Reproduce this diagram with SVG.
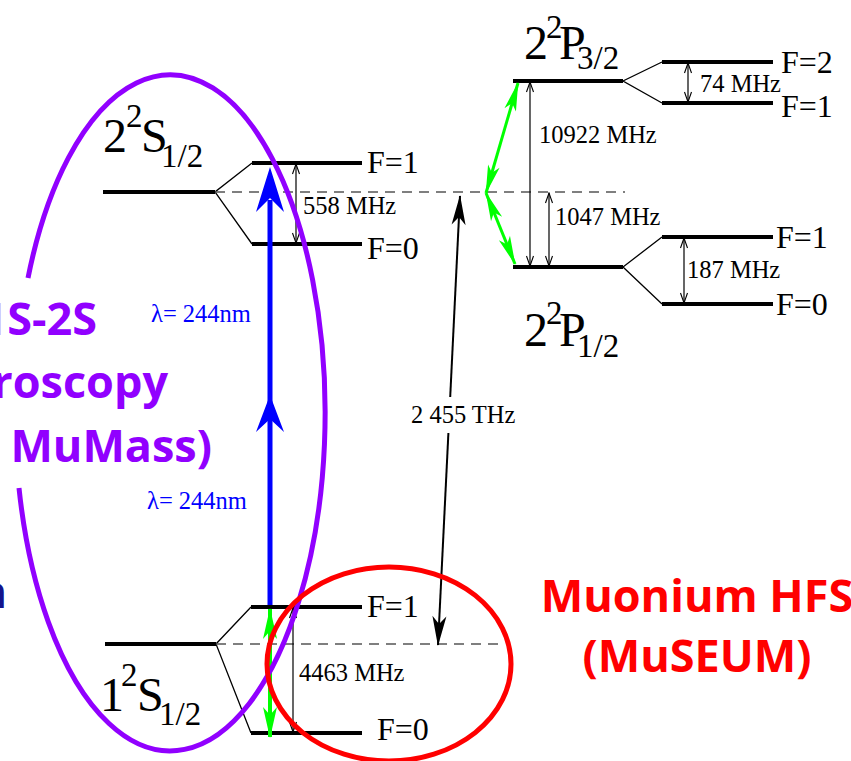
<svg xmlns="http://www.w3.org/2000/svg" width="851" height="761" viewBox="0 0 851 761">
<style>
.lvl{stroke:#000;stroke-width:4;fill:none}
.dg{stroke:#000;stroke-width:1.3;fill:none}
.dash{stroke:#555;stroke-width:1.3;stroke-dasharray:10 7;fill:none}
.tm{font-family:"Liberation Serif","Times New Roman",serif;fill:#000}
.f{font-size:32px}
.mhz{font-size:24.5px}
.big{font-size:48px}
.sm{font-size:33px}
.dim{stroke:#000;stroke-width:1.2;fill:none;marker-start:url(#vh);marker-end:url(#vh)}
.grn{stroke:#00ff00;stroke-width:4;fill:none;marker-start:url(#gh);marker-end:url(#gh)}
.grn2{stroke:#00ff00;stroke-width:3;fill:none;marker-start:url(#gh2);marker-end:url(#gh2)}
.bld{font-family:"Open Sans","Lato","Liberation Sans",sans-serif;font-weight:bold;font-size:45px}
.lam{font-family:"Liberation Serif","Times New Roman",serif;font-size:24.5px;fill:#0000ff}
</style>
<defs>
<marker id="vh" markerUnits="userSpaceOnUse" viewBox="-11 -5 12 10" markerWidth="12" markerHeight="10" refX="0" refY="0" orient="auto-start-reverse">
<path d="M-10,-3.5 L0,0 L-10,3.5" fill="none" stroke="#000" stroke-width="1.1"/>
</marker>
<marker id="gh" markerUnits="userSpaceOnUse" viewBox="-32 -8 34 16" markerWidth="34" markerHeight="16" refX="0" refY="0" orient="auto-start-reverse">
<path d="M1,0 L-30,-7 L-22,0 L-30,7 Z" fill="#00ff00"/>
</marker>
<marker id="gh2" markerUnits="userSpaceOnUse" viewBox="-32 -8 34 16" markerWidth="34" markerHeight="16" refX="0" refY="0" orient="auto-start-reverse">
<path d="M1,0 L-28,-6 L-21,0 L-28,6 Z" fill="#00ff00"/>
</marker>
<marker id="bh" markerUnits="userSpaceOnUse" viewBox="-32 -9 34 18" markerWidth="34" markerHeight="18" refX="0" refY="0" orient="auto-start-reverse">
<path d="M1,0 L-29,-7 L-21,0 L-29,7 Z" fill="#000"/>
</marker>
</defs>
<rect width="851" height="761" fill="#fff"/>

<g id="level-2S">
<line class="lvl" x1="103" y1="192" x2="215" y2="192"/>
<line class="lvl" x1="252" y1="163" x2="362" y2="163"/>
<line class="lvl" x1="252" y1="244" x2="362" y2="244"/>
<polyline class="dg" points="252,163 215,192 252,244"/>
<text class="tm"><tspan class="big" x="103" y="152">2</tspan><tspan class="sm" x="126" y="127">2</tspan><tspan class="big" x="141" y="152">S</tspan><tspan class="sm" x="161" y="167">1/2</tspan></text>
<text class="tm f" x="367" y="173">F=1</text>
<text class="tm f" x="367" y="259">F=0</text>
</g>

<g id="level-1S">
<line class="lvl" x1="105" y1="644" x2="216" y2="644"/>
<line class="lvl" x1="251" y1="607" x2="362" y2="607"/>
<line class="lvl" x1="251" y1="733" x2="362" y2="733"/>
<polyline class="dg" points="251,607 216,644 251,733"/>
<text class="tm"><tspan class="big" x="100" y="711">1</tspan><tspan class="sm" x="121" y="686">2</tspan><tspan class="big" x="137" y="711">S</tspan><tspan class="sm" x="159" y="725">1/2</tspan></text>
<text class="tm f" x="367" y="617">F=1</text>
<text class="tm f" x="377" y="740">F=0</text>
</g>

<g id="level-2P32">
<line class="lvl" x1="513" y1="81" x2="623" y2="81"/>
<line class="lvl" x1="662" y1="62" x2="773" y2="62"/>
<line class="lvl" x1="662" y1="103" x2="773" y2="103"/>
<polyline class="dg" points="662,62 623,81 662,103"/>
<text class="tm"><tspan class="big" x="524" y="59">2</tspan><tspan class="sm" x="546" y="38">2</tspan><tspan class="big" x="559" y="59">P</tspan><tspan class="sm" x="577" y="69">3/2</tspan></text>
<text class="tm f" x="781" y="73">F=2</text>
<text class="tm f" x="781" y="117">F=1</text>
</g>

<g id="level-2P12">
<line class="lvl" x1="513" y1="267" x2="623" y2="267"/>
<line class="lvl" x1="662" y1="237" x2="773" y2="237"/>
<line class="lvl" x1="662" y1="304" x2="773" y2="304"/>
<polyline class="dg" points="662,237 623,267 662,304"/>
<text class="tm"><tspan class="big" x="524" y="346">2</tspan><tspan class="sm" x="546" y="324">2</tspan><tspan class="big" x="559" y="346">P</tspan><tspan class="sm" x="577" y="357">1/2</tspan></text>
<text class="tm f" x="776" y="248">F=1</text>
<text class="tm f" x="776" y="315">F=0</text>
</g>

<g id="connectors">
<line class="dash" x1="215" y1="192" x2="625" y2="192"/>
<line class="dash" x1="216" y1="644" x2="498" y2="644"/>
<line class="dim" x1="296" y1="164" x2="296" y2="243"/>
<line class="dim" x1="293" y1="608" x2="293" y2="732"/>
<line class="dim" x1="688" y1="63" x2="688" y2="102"/>
<line class="dim" x1="530" y1="82" x2="530" y2="266"/>
<line class="dim" x1="549" y1="193" x2="549" y2="266"/>
<line class="dim" x1="684" y1="238" x2="684" y2="303"/>
<line stroke="#000" stroke-width="2" x1="450.2" y1="397" x2="460" y2="196" marker-end="url(#bh)"/>
<line stroke="#000" stroke-width="2" x1="448.4" y1="433" x2="438" y2="645" marker-end="url(#bh)"/>
<line stroke="#0000ff" stroke-width="5" x1="270" y1="200" x2="270" y2="605"/>
<path d="M270,167 L256,212 L270,198 L284,212 Z" fill="#0000ff"/>
<path d="M270,395 L256,432 L270,419 L284,432 Z" fill="#0000ff"/>
<line class="grn" x1="270" y1="609" x2="270" y2="737"/>
<line class="grn2" x1="486" y1="193" x2="518" y2="83"/>
<line class="grn2" x1="486" y1="193" x2="515" y2="264"/>
<text class="tm mhz" x="303" y="214">558 MHz</text>
<text class="tm mhz" x="299" y="681">4463 MHz</text>
<text class="tm mhz" x="700" y="92">74 MHz</text>
<text class="tm mhz" x="539" y="143">10922 MHz</text>
<text class="tm mhz" x="555" y="225">1047 MHz</text>
<text class="tm mhz" x="687" y="278">187 MHz</text>
<text class="tm mhz" x="411" y="423">2 455 THz</text>
<text class="lam" x="151" y="322">λ= 244nm</text>
<text class="lam" x="147" y="509">λ= 244nm</text>
</g>

<g id="ellipse-mumass">
<path d="M28,278 A155,338 0 1 1 19,488" fill="none" stroke="#9100ff" stroke-width="5"/>
<text class="bld" fill="#9100ff" text-anchor="end"><tspan x="97" y="335">1S-2S</tspan><tspan x="168" y="398">Spectroscopy</tspan><tspan x="212" y="462">MuMass)</tspan></text>
</g>

<g id="ellipse-museum">
<ellipse cx="389" cy="664" rx="122" ry="97" fill="none" stroke="#ff0000" stroke-width="5"/>
<text class="bld" fill="#ff0000" text-anchor="middle"><tspan x="697" y="612">Muonium HFS</tspan><tspan x="697" y="672">(MuSEUM)</tspan></text>
</g>

<text class="bld" fill="#14148c" text-anchor="end" x="7" y="608">n</text>
</svg>
